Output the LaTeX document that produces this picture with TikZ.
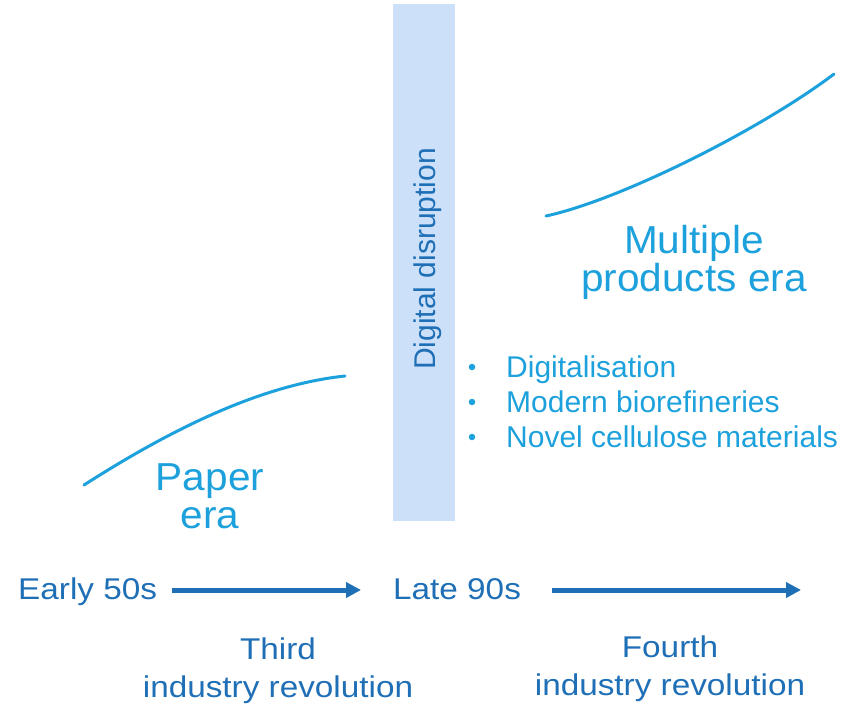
\documentclass[tikz,border=0pt]{standalone}
\usepackage{fontspec}
\setmainfont{Liberation Sans}
\newfontfamily\widefont[FakeStretch=1.11]{Liberation Sans}
\newfontfamily\erafont[FakeStretch=1.04]{Liberation Sans}
\usetikzlibrary{arrows.meta}
\definecolor{lightblue}{HTML}{1DA1DC}
\definecolor{darkblue}{HTML}{1F6FB6}
\definecolor{boxfill}{HTML}{CCE0F9}
\begin{document}
\begin{tikzpicture}[x=1pt,y=-1pt,
  txt/.style={inner sep=0pt,font=\fontsize{30}{36}\selectfont},
  widetxt/.style={inner sep=0pt,font=\widefont\fontsize{30}{36}\selectfont,text=darkblue},
  timetxt/.style={widetxt,anchor=base west},
  revtxt/.style={widetxt,anchor=base,align=center},
  bullettxt/.style={txt,text=lightblue,anchor=base west},
  eratxt/.style={inner sep=0pt,font=\erafont\fontsize{39}{38}\selectfont,text=lightblue,anchor=base,align=center},
  curve/.style={draw=lightblue,line width=3pt,line cap=round},
  timearrow/.style={draw=darkblue,line width=5pt,-{Triangle[length=15pt,width=15pt]}},
  bulletdot/.style={circle,fill=lightblue,inner sep=0pt,minimum size=6.5pt}]
\useasboundingbox (0,0) rectangle (854,705);
% digital disruption band
\fill[boxfill] (393,4) rectangle (455,521);
\node[txt,text=darkblue,rotate=90,anchor=base] (dd) at (435,259) {Digital disruption};
% curves
\draw[curve] (84,485) .. controls (170,430) and (260,385) .. (345,376);
\draw[curve] (546,216) .. controls (620,200) and (760,130) .. (834,74);
% era labels
\node[eratxt] (paper) at (210,490) {Paper};
\node[eratxt] (paperera) at (210,528) {era};
\node[eratxt] (mult) at (694,253) {Multiple};
\node[eratxt] (prod) at (694,291) {products era};
% bullets
\node[bullettxt] (b1) at (506,377) {Digitalisation};
\node[bullettxt] (b2) at (506,412) {Modern biorefineries};
\node[bullettxt] (b3) at (506,447) {Novel cellulose materials};
\node[bulletdot] (d1) at (472,367) {};
\node[bulletdot] (d2) at (472,402) {};
\node[bulletdot] (d3) at (472,437) {};
% timeline
\node[timetxt] (early) at (18,599) {Early 50s};
\node[timetxt] (late) at (393,599) {Late 90s};
\coordinate (end2) at (801,590);
\draw[timearrow] ([xshift=15pt]early.east |- 0,590) -- ([xshift=-32pt]late.west |- 0,590);
\draw[timearrow] ([xshift=31pt]late.east |- 0,590) -- (end2);
% revolutions
\node[revtxt] (third) at (278,659) {Third};
\node[revtxt] (third2) at (278,697) {industry revolution};
\node[revtxt] (fourth) at (670,657) {Fourth};
\node[revtxt] (fourth2) at (670,695) {industry revolution};
\end{tikzpicture}
\end{document}
